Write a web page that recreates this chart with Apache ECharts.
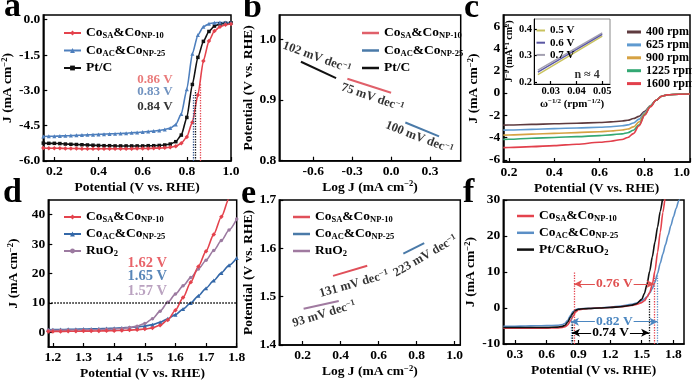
<!DOCTYPE html>
<html>
<head>
<meta charset="utf-8">
<script src="https://cdn.jsdelivr.net/npm/echarts@6.0.0/dist/echarts.min.js"></script>
<style>
html,body{margin:0;padding:0;background:#fff;}
#chart{width:692px;height:384px;}
</style>
</head>
<body>
<div id="chart"></div>
<script>
// ---------- Panel a : ORR polarisation (J vs potential) ----------
const aPotential = [0.15,0.175,0.2,0.225,0.25,0.275,0.3,0.325,0.35,0.375,0.4,0.425,0.45,0.475,0.5,0.525,0.55,0.575,0.6,0.625,0.65,0.675,0.7,0.725,0.75,0.775,0.8,0.825,0.85,0.875,0.9,0.925,0.95,0.975,1.0];
const aCoSA = [-5.45,-5.46,-5.46,-5.46,-5.47,-5.47,-5.47,-5.48,-5.48,-5.48,-5.48,-5.48,-5.48,-5.48,-5.48,-5.48,-5.48,-5.47,-5.47,-5.47,-5.46,-5.45,-5.44,-5.42,-5.37,-5.25,-4.98,-4.35,-3.2,-1.75,-0.9,-0.48,-0.3,-0.21,-0.18];
const aCoAC = [-4.96,-4.95,-4.95,-4.94,-4.93,-4.92,-4.91,-4.9,-4.89,-4.88,-4.87,-4.86,-4.85,-4.84,-4.83,-4.82,-4.8,-4.79,-4.77,-4.75,-4.73,-4.7,-4.66,-4.6,-4.45,-4.0,-2.95,-1.45,-0.65,-0.3,-0.17,-0.13,-0.12,-0.12,-0.12];
const aPtC = [-5.24,-5.25,-5.25,-5.26,-5.28,-5.29,-5.3,-5.31,-5.32,-5.33,-5.34,-5.35,-5.35,-5.36,-5.36,-5.36,-5.36,-5.36,-5.36,-5.35,-5.35,-5.34,-5.32,-5.28,-5.18,-4.9,-4.15,-2.75,-1.6,-0.92,-0.5,-0.27,-0.18,-0.15,-0.13];
const aHalfWave = [0.86, 0.83, 0.84];
const aXTicks = [0.2,0.4,0.6,0.8,1.0];
const aYTicks = [-6,-4.5,-3,-1.5,0];

// ---------- Panel b : ORR Tafel ----------
const bLogJ_SA = [-0.337, 0.0];   const bE_SA = [0.935, 0.912];
const bLogJ_AC = [0.11, 0.37];    const bE_AC = [0.863, 0.84];
const bLogJ_Pt = [-0.695, -0.424]; const bE_Pt = [0.963, 0.936];
const bSlopes = ['102', '75', '100'];
const bXTicks = [-0.6,-0.3,0.0,0.3];
const bYTicks = [0.8,0.9,1.0];

// ---------- Panel c : LSV at rotation rates ----------
const cPotential = [0.175,0.2,0.3,0.4,0.5,0.6,0.65,0.7,0.725,0.75,0.775,0.8,0.825,0.85,0.875,0.9,0.95,1.0];
const c400  = [-2.89,-2.88,-2.82,-2.77,-2.72,-2.65,-2.6,-2.52,-2.45,-2.3,-2.1,-1.65,-1.15,-0.65,-0.3,-0.17,-0.11,-0.1];
const c625  = [-3.34,-3.33,-3.27,-3.2,-3.15,-3.08,-3.03,-2.95,-2.87,-2.7,-2.35,-1.75,-1.15,-0.65,-0.3,-0.17,-0.11,-0.1];
const c900  = [-3.79,-3.78,-3.7,-3.63,-3.56,-3.48,-3.42,-3.33,-3.24,-3.05,-2.6,-1.85,-1.18,-0.65,-0.3,-0.17,-0.11,-0.1];
const c1225 = [-4.17,-4.16,-4.07,-4.0,-3.92,-3.83,-3.76,-3.67,-3.57,-3.35,-2.85,-1.95,-1.2,-0.65,-0.3,-0.17,-0.11,-0.1];
const c1600 = [-4.91,-4.9,-4.82,-4.73,-4.6,-4.43,-4.33,-4.18,-4.0,-3.65,-2.95,-2.0,-1.25,-0.65,-0.3,-0.17,-0.11,-0.1];
const cRpm = ['400 rpm','625 rpm','900 rpm','1225 rpm','1600 rpm'];
const cXTicks = [0.2,0.4,0.6,0.8,1.0];
const cYTicks = [-6,-4,-2,0,2,4,6];
// inset: Koutecky-Levich
const kOmega = [0.025, 0.05];
const k05 = [0.228, 0.375];
const k06 = [0.237, 0.381];
const k07 = [0.245, 0.387];
const kXTicks = [0.03,0.04,0.05];
const kYTicks = [0.2,0.3,0.4];

// ---------- Panel d : OER polarisation ----------
const dPotential = [1.185,1.2,1.225,1.25,1.275,1.3,1.325,1.35,1.375,1.4,1.425,1.45,1.475,1.5,1.525,1.55,1.575,1.6,1.625,1.65,1.675,1.7,1.725,1.75,1.775,1.8];
const dCoSA = [0.3,0.3,0.3,0.35,0.35,0.4,0.4,0.45,0.5,0.55,0.65,0.75,0.9,1.1,1.5,2.4,4.2,7.5,11.8,17.0,22.4,27.6,33.3,39.3,45.5,52];
const dCoAC = [0.88,0.9,0.95,1.0,1.05,1.1,1.15,1.2,1.3,1.4,1.5,1.65,1.8,2.1,2.6,3.4,4.6,6.0,7.9,10.0,12.4,15.0,17.6,20.2,22.8,25.3];
const dRuO2 = [0.68,0.7,0.72,0.75,0.78,0.82,0.86,0.92,1.0,1.1,1.3,1.6,2.1,3.0,4.6,7.2,10.2,13.0,15.8,18.6,21.5,24.5,27.8,31.2,34.8,38.5];
const dE10 = [1.62, 1.65, 1.57];
const dXTicks = [1.2,1.3,1.4,1.5,1.6,1.7,1.8];
const dYTicks = [0,10,20,30,40];

// ---------- Panel e : OER Tafel ----------
const eLogJ_SA = [0.36, 0.54]; const eE_SA = [1.543, 1.564];
const eLogJ_AC = [0.73, 0.84]; const eE_AC = [1.589, 1.611];
const eLogJ_Ru = [0.205, 0.39]; const eE_Ru = [1.475, 1.491];
const eSlopes = ['131', '223', '93'];
const eXTicks = [0.2,0.4,0.6,0.8,1.0];
const eYTicks = [1.4,1.5,1.6,1.7];

// ---------- Panel f : bifunctional ----------
const fPotential = [0.19,0.2,0.3,0.4,0.5,0.6,0.7,0.75,0.775,0.8,0.825,0.85,0.875,0.9,0.95,1.0,1.1,1.2,1.3,1.4,1.45,1.5,1.525,1.55,1.575,1.6,1.625,1.65,1.675,1.7,1.725,1.75,1.775,1.8,1.825,1.85,1.875,1.9];
const fCoSA = [-5.6,-5.6,-5.6,-5.6,-5.6,-5.58,-5.52,-5.4,-5.2,-4.7,-3.6,-2.3,-1.1,-0.5,-0.25,-0.15,0.0,0.15,0.35,0.7,1.0,1.5,2.0,3.0,4.3,6.5,10.3,15.5,21.0,26.5,32.0];
const fCoAC = [-5.15,-5.1,-5.05,-5.0,-4.95,-4.9,-4.8,-4.6,-4.25,-3.4,-2.1,-1.0,-0.45,-0.25,-0.15,-0.1,0.05,0.25,0.55,1.0,1.4,2.0,2.5,3.2,4.1,5.4,7.2,9.6,12.4,15.0,17.6,20.2,22.8,25.3,27.6,29.8,32.0];
const fPtRu = [-5.4,-5.4,-5.4,-5.42,-5.42,-5.4,-5.3,-5.1,-4.8,-3.9,-2.6,-1.4,-0.65,-0.35,-0.2,-0.15,0.0,0.15,0.35,0.75,1.2,2.4,4.0,6.6,10.2,14.2,18.3,22.5,26.8,31.0];
const fGap = ['0.76 V', '0.82 V', '0.74 V'];
const fXTicks = [0.3,0.6,0.9,1.2,1.5,1.8];
const fYTicks = [-10,0,10,20,30];

// ================= build =================
const F = '"Liberation Serif","Times New Roman",serif';
const RED = '#e4434d', BLUE = '#4e7fbd', BLK = '#111111', PUR = '#9c7aa0', DBLUE = '#3468a8', FBLUE = '#5b8fc6';
function zip(xs, ys){ const o=[]; const n=Math.min(xs.length, ys.length); for(let i=0;i<n;i++) o.push([xs[i], ys[i]]); return o; }

const RICH = {
  m: {fontFamily:F, fontWeight:'bold', fontSize:13.5, lineHeight:15},
  s: {fontFamily:F, fontWeight:'bold', fontSize:8.5, lineHeight:8, verticalAlign:'bottom'},
  p: {fontFamily:F, fontWeight:'bold', fontSize:8.5, lineHeight:8, verticalAlign:'top'}
};
const LEG = {
  a1:'{m|Co}{s|SA}{m|&Co}{s|NP-10}', a2:'{m|Co}{s|AC}{m|&Co}{s|NP-25}', a3:'{m|Pt/C}',
  b1:'{m|Co}{s|SA}{m|&Co}{s|NP-10}', b2:'{m|Co}{s|AC}{m|&Co}{s|NP-25}', b3:'{m|Pt/C}',
  d1:'{m|Co}{s|SA}{m|&Co}{s|NP-10}', d2:'{m|Co}{s|AC}{m|&Co}{s|NP-25}', d3:'{m|RuO}{s|2}',
  e1:'{m|Co}{s|SA}{m|&Co}{s|NP-10}', e2:'{m|Co}{s|AC}{m|&Co}{s|NP-25}', e3:'{m|RuO}{s|2}',
  f1:'{m|Co}{s|SA}{m|&Co}{s|NP-10}', f2:'{m|Co}{s|AC}{m|&Co}{s|NP-25}', f3:'{m|Pt/C&RuO}{s|2}'
};

function axis(gi, min, max, labels, dec, name, gap, opt){
  opt = opt || {};
  const fs = opt.fs || 13.5;
  const lab = {show:true, customValues:labels, formatter:function(v){return Number(v).toFixed(dec);},
      margin:opt.margin||4, fontFamily:F, fontWeight:'bold', fontSize:fs, color:'#000'};
  if (opt.alignMax) lab.alignMaxLabel = opt.alignMax;
  return {
    type:'value', gridIndex:gi, min:min, max:max, scale:true,
    axisLine:{show:true, onZero:false, lineStyle:{color:'#000', width:opt.lw||1.5}},
    axisTick:{show:true, inside:true, length:opt.tl||4, customValues:labels, lineStyle:{color:'#000', width:1.2}},
    axisLabel:lab,
    splitLine:{show:false}, minorTick:{show:false},
    name:name, nameLocation:'middle', nameGap:gap,
    nameTextStyle:{fontFamily:F, fontWeight:'bold', fontSize:opt.nfs||13.5, color:'#000', lineHeight:opt.nfs?opt.nfs+1:15,
      rich:{p:{fontFamily:F, fontWeight:'bold', fontSize:opt.pfs||8.5, lineHeight:opt.pfs||8, verticalAlign:'top'}}}
  };
}
function grid(l,t,w,h,bg,bw,bc){
  return {left:l, top:t, width:w, height:h, show:true, borderColor:bc||'#000', borderWidth:bw||1.5,
    backgroundColor:bg||'transparent', containLabel:false, outerBoundsMode:'none'};
}
function ln(gi, name, xs, ys, color, ex){
  return Object.assign({type:'line', name:name, xAxisIndex:gi, yAxisIndex:gi, data:zip(xs,ys),
    symbol:'none', showSymbol:false, smooth:0.25, smoothMonotone:'x', clip:true, silent:true,
    lineStyle:{color:color, width:1.6}, itemStyle:{color:color}, animation:false}, ex||{});
}
function note(gi, x, y, text, lab){
  return {type:'scatter', xAxisIndex:gi, yAxisIndex:gi, data:[[x,y]], symbolSize:1, silent:true,
    itemStyle:{color:'rgba(0,0,0,0)'}, animation:false, z:10,
    label:Object.assign({show:true, position:'inside', formatter:text, fontFamily:F, fontWeight:'bold',
      fontSize:13, color:'#000', rich:RICH}, lab||{})};
}
function legend(names, left, top, gap, ex){
  return Object.assign({data:names, left:left, top:top, orient:'vertical', itemGap:gap, itemWidth:17, itemHeight:6,
    padding:0, selectedMode:false, formatter:function(n){return LEG[n]||n;},
    textStyle:{fontFamily:F, fontWeight:'bold', fontSize:13.5, color:'#000', rich:RICH}}, ex||{});
}
function vline(x, y0, y1, color){
  return [{coord:[x,y0], symbol:'none', lineStyle:{type:'dotted', color:color, width:1.3}, label:{show:false}}, {coord:[x,y1], symbol:'none'}];
}
function arrow(x0, x1, y, color, text){
  return [{coord:[x0,y], symbol:'arrow', symbolSize:[6,8], lineStyle:{type:'solid', color:color, width:1.2},
      label:{show:true, position:'middle', distance:0, verticalAlign:'middle', formatter:text, color:color, fontFamily:F, fontWeight:'bold', fontSize:13.5,
        backgroundColor:'#fff', padding:[0,1]}},
    {coord:[x1,y], symbol:'arrow', symbolSize:[6,8]}];
}

const JNAME = 'J (mA cm{p|−2})';
const ENAME = 'Potential (V vs. RHE)';
const LNAME = 'Log J (mA cm{p|−2})';

const option = {
  animation:false,
  backgroundColor:'#fff',
  grid:[
    grid(43.3, 15, 187.7, 146),
    grid(279.3, 15, 181.4, 145.7),
    grid(503.3, 15, 186.7, 147),
    grid(48.3, 200, 188.4, 147),
    grid(279.3, 200, 181, 145),
    grid(503.3, 200, 180.7, 144),
    grid(534, 19, 76, 65, '#fff', 1, '#888')
  ],
  xAxis:[
    axis(0, 0.15, 1.0, aXTicks, 1, ENAME, 15),
    axis(1, -0.862, 0.537, bXTicks, 1, LNAME, 16),
    axis(2, 0.175, 1.0, cXTicks, 1, ENAME, 14, {alignMax:'right'}),
    axis(3, 1.185, 1.8, dXTicks, 1, ENAME, 14),
    axis(4, 0.077, 1.03, eXTicks, 1, LNAME, 16),
    axis(5, 0.19, 1.9, fXTicks, 1, ENAME, 16),
    axis(6, 0.0235, 0.053, kXTicks, 2, 'ω{p|−1/2} (rpm{p|−1/2})', 9, {fs:10.5, nfs:11, pfs:7, lw:1, tl:3, margin:2})
  ],
  yAxis:[
    axis(0, -6, 0.2, aYTicks, 1, JNAME, 23, {margin:3}),
    axis(1, 0.8, 1.04, bYTicks, 1, ENAME, 22, {margin:3}),
    axis(2, -6.2, 7, cYTicks, 0, JNAME, 22, {margin:3}),
    axis(3, -5, 45, dYTicks, 0, JNAME, 27, {margin:3}),
    axis(4, 1.4, 1.7, eYTicks, 1, ENAME, 21, {margin:3}),
    axis(5, -10, 30, fYTicks, 0, JNAME, 22, {margin:3}),
    axis(6, 0.192, 0.44, kYTicks, 1, 'J{p|−1} (mA{p|−1} cm{p|2})', 16, {fs:10.5, nfs:10, pfs:6.5, lw:1, tl:3, margin:2})
  ],
  legend:[
    legend(['a1','a2','a3'], 63, 26, 3),
    legend(['b1','b2','b3'], 362, 26, 3, {icon:'rect', itemHeight:2.5}),
    legend(cRpm, 627, 26, 0.9, {icon:'rect', itemHeight:3, itemWidth:14, formatter:null, textStyle:{fontFamily:F, fontWeight:'bold', fontSize:12, lineHeight:12, color:'#000'}}),
    legend(['0.5 V','0.6 V','0.7 V'], 536.5, 25, 1.2, {icon:'rect', itemWidth:8.5, itemHeight:2, formatter:null, textStyle:{fontFamily:F, fontWeight:'bold', fontSize:11, lineHeight:11, color:'#000'}}),
    legend(['d1','d2','d3'], 63, 210, 2.5),
    legend(['e1','e2','e3'], 293, 210, 2.5, {icon:'rect', itemHeight:2.5}),
    legend(['f1','f2','f3'], 517, 209, 2.3, {icon:'rect', itemHeight:2.5})
  ],
  graphic:[
    {type:'text', x:4, y:7, style:{text:'a', font:'bold 34px '+F, fill:'#000', verticalAlign:'middle'}},
    {type:'text', x:243, y:8.5, style:{text:'b', font:'bold 34px '+F, fill:'#000', verticalAlign:'middle'}},
    {type:'text', x:464, y:8, style:{text:'c', font:'bold 34px '+F, fill:'#000', verticalAlign:'middle'}},
    {type:'text', x:3, y:193.5, style:{text:'d', font:'bold 34px '+F, fill:'#000', verticalAlign:'middle'}},
    {type:'text', x:241, y:194, style:{text:'e', font:'bold 34px '+F, fill:'#000', verticalAlign:'middle'}},
    {type:'text', x:463, y:193.5, style:{text:'f', font:'bold 34px '+F, fill:'#000', verticalAlign:'middle'}}
  ],
  series:[
    // ---- a ----
    ln(0,'a3',aPotential,aPtC,BLK,{symbol:'rect',symbolSize:3.5,showSymbol:true,smooth:0.2,
      markLine:{silent:true,animation:false,symbol:'none',label:{show:false},data:[vline(aHalfWave[2],-6,-3.0,BLK)]}}),
    ln(0,'a2',aPotential,aCoAC,BLUE,{symbol:'triangle',symbolSize:4,showSymbol:true,smooth:0.2,
      markLine:{silent:true,animation:false,symbol:'none',label:{show:false},data:[vline(aHalfWave[1],-6,-3.2,'#2d4f8a')]}}),
    ln(0,'a1',aPotential,aCoSA,RED,{symbol:'diamond',symbolSize:4.5,showSymbol:true,smooth:0.2,
      markLine:{silent:true,animation:false,symbol:'none',label:{show:false},data:[vline(aHalfWave[0],-6,-2.7,RED)]}}),
    note(0, 0.656, -2.54, aHalfWave[0].toFixed(2)+' V', {color:'#e35a5a', fontSize:13}),
    note(0, 0.656, -3.07, aHalfWave[1].toFixed(2)+' V', {color:'#4d78b0', fontSize:13}),
    note(0, 0.656, -3.70, aHalfWave[2].toFixed(2)+' V', {color:'#000', fontSize:13}),
    // ---- b ----
    ln(1,'b3',bLogJ_Pt,bE_Pt,BLK,{smooth:false,lineStyle:{color:BLK,width:2}}),
    ln(1,'b1',bLogJ_SA,bE_SA,'#e0606a',{smooth:false,lineStyle:{color:'#e0606a',width:2}}),
    ln(1,'b2',bLogJ_AC,bE_AC,'#4a7aa8',{smooth:false,lineStyle:{color:'#4a7aa8',width:2}}),
    note(1, -0.573, 0.970, '{q|'+bSlopes[0]+' mV dec}{p|−1}', {rotate:-20, rich:{q:{fontFamily:F,fontWeight:'bold',fontSize:12.5,lineHeight:14}, p:RICH.p}}),
    note(1, -0.143, 0.904, '{q|'+bSlopes[1]+' mV dec}{p|−1}', {rotate:-19, rich:{q:{fontFamily:F,fontWeight:'bold',fontSize:12.5,lineHeight:14}, p:RICH.p}}),
    note(1, 0.217, 0.838, '{q|'+bSlopes[2]+' mV dec}{p|−1}', {rotate:-21, rich:{q:{fontFamily:F,fontWeight:'bold',fontSize:12.5,lineHeight:14}, p:RICH.p}}),
    // ---- c ----
    ln(2,cRpm[0],cPotential,c400,'#5e3b3f',{smooth:0.35}),
    ln(2,cRpm[1],cPotential,c625,'#5f9ad0',{smooth:0.35}),
    ln(2,cRpm[2],cPotential,c900,'#d6a243',{smooth:0.35}),
    ln(2,cRpm[3],cPotential,c1225,'#33a873',{smooth:0.35}),
    ln(2,cRpm[4],cPotential,c1600,'#e2404c',{smooth:0.35}),
    // inset
    ln(6,'0.7 V',kOmega,k07,'#a3a0b0',{smooth:false,lineStyle:{color:'#a3a0b0',width:1.4}}),
    ln(6,'0.5 V',kOmega,k05,'#c9c25e',{smooth:false,lineStyle:{color:'#c9c25e',width:1.4}}),
    ln(6,'0.6 V',kOmega,k06,'#5a57a3',{smooth:false,lineStyle:{color:'#5a57a3',width:1.4}}),
    note(6, 0.0441, 0.226, 'n ≈ 4', {fontSize:12}),
    // ---- d ----
    ln(3,'d2',dPotential,dCoAC,DBLUE,{symbol:'triangle',symbolSize:4,showSymbol:true,
      markLine:{silent:true,animation:false,symbol:'none',label:{show:false},
        lineStyle:{type:'dotted',color:'#000',width:1.5},data:[{yAxis:10}]}}),
    ln(3,'d3',dPotential,dRuO2,PUR,{symbol:'circle',symbolSize:3.5,showSymbol:true}),
    ln(3,'d1',dPotential,dCoSA,RED,{symbol:'diamond',symbolSize:4.5,showSymbol:true}),
    note(3, 1.508, 23.4, dE10[0].toFixed(2)+' V', {color:'#e23c44', fontSize:14.5}),
    note(3, 1.508, 18.9, dE10[1].toFixed(2)+' V', {color:'#2f68a6', fontSize:14.5}),
    note(3, 1.508, 14.1, dE10[2].toFixed(2)+' V', {color:'#a98bb0', fontSize:14.5}),
    // ---- e ----
    ln(4,'e1',eLogJ_SA,eE_SA,'#e0505a',{smooth:false,lineStyle:{color:'#e0505a',width:2}}),
    ln(4,'e2',eLogJ_AC,eE_AC,'#4a7aa8',{smooth:false,lineStyle:{color:'#4a7aa8',width:2}}),
    ln(4,'e3',eLogJ_Ru,eE_Ru,'#a07aa0',{smooth:false,lineStyle:{color:'#a07aa0',width:2}}),
    note(4, 0.470, 1.526, '{q|'+eSlopes[0]+' mV dec}{p|−1}', {rotate:16, rich:{q:{fontFamily:F,fontWeight:'bold',fontSize:12.5,lineHeight:14}, p:RICH.p}}),
    note(4, 0.846, 1.584, '{q|'+eSlopes[1]+' mV dec}{p|−1}', {rotate:30, rich:{q:{fontFamily:F,fontWeight:'bold',fontSize:12.5,lineHeight:14}, p:RICH.p}}),
    note(4, 0.313, 1.464, '{q|'+eSlopes[2]+' mV dec}{p|−1}', {rotate:17, rich:{q:{fontFamily:F,fontWeight:'bold',fontSize:12.5,lineHeight:14}, p:RICH.p}}),
    // ---- f ----
    ln(5,'f2',fPotential,fCoAC,FBLUE,{smooth:0.25}),
    ln(5,'f1',fPotential,fCoSA,RED,{smooth:0.25}),
    ln(5,'f3',fPotential,fPtRu,BLK,{smooth:0.25,
      markLine:{silent:true,animation:false,symbol:'none',label:{show:false},
        data:[
          vline(0.86,-10,10,RED), vline(1.62,-10,9,RED),
          vline(0.83,-10,-2,FBLUE), vline(1.65,-10,9,FBLUE),
          vline(0.84,-10,-4,BLK), vline(1.57,-10,2.5,BLK),
          arrow(0.86,1.62,6.7,'#e05050',fGap[0]),
          arrow(0.83,1.65,-3.8,'#4b86c0',fGap[1]),
          arrow(0.84,1.57,-6.9,'#000',fGap[2])
        ]}})
  ]
};

const chart = echarts.init(document.getElementById('chart'), null, {renderer:'canvas', width:692, height:384});
chart.setOption(option);
</script>
</body>
</html>
